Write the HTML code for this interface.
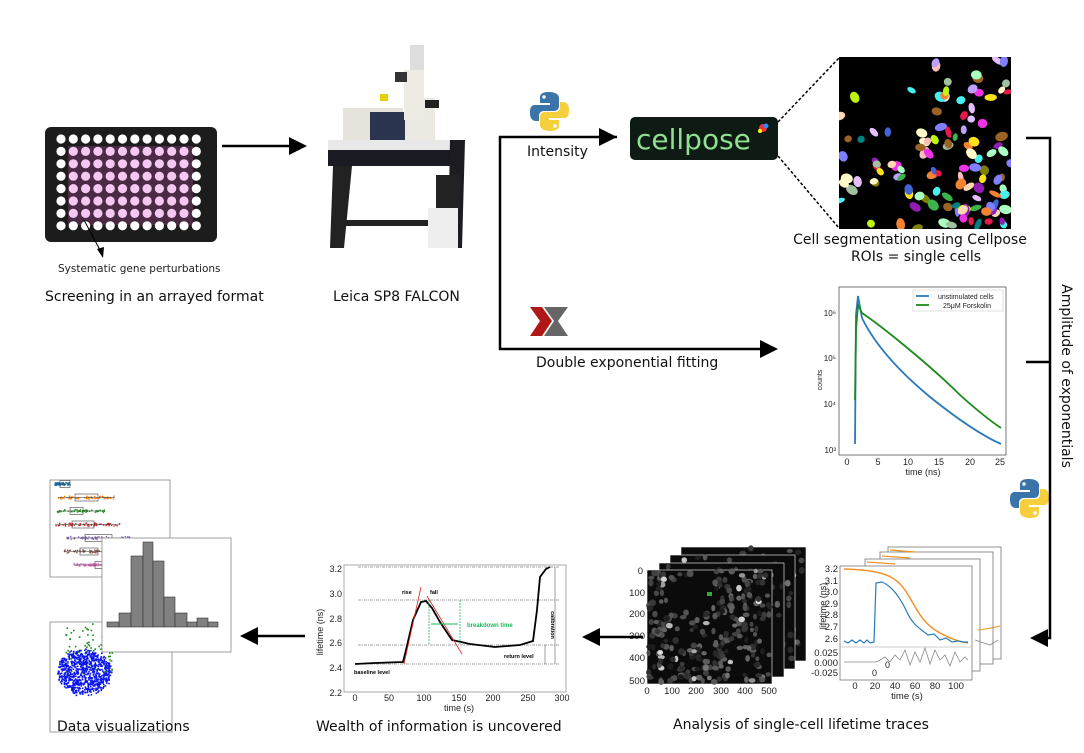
<!DOCTYPE html>
<html><head><meta charset="utf-8"><style>
html,body{margin:0;padding:0;background:#fff;}
svg{display:block;font-family:"Liberation Sans","DejaVu Sans",sans-serif;}
.cap{font-family:"DejaVu Sans","Liberation Sans",sans-serif;}
</style></head><body>
<svg id="s" width="1084" height="753" viewBox="0 0 1084 753" xmlns="http://www.w3.org/2000/svg">
<defs>
<clipPath id="segc"><rect x="839" y="57" width="172" height="172"/></clipPath>
</defs>

<!-- Plate -->
<rect x="45" y="127" width="172" height="115" rx="6" fill="#1c1c1c"/>
<rect x="68" y="146" width="125" height="79" fill="#4a2a45"/>
<g id="wells"></g>
<line x1="84" y1="220" x2="100" y2="250" stroke="#000" stroke-width="1"/>
<path d="M97,249 L103,258 L104,247z" fill="#000"/>
<text class="cap" x="58" y="272" font-size="10.5" fill="#222">Systematic gene perturbations</text>
<text class="cap" x="45" y="301" font-size="14" fill="#111">Screening in an arrayed format</text>

<line x1="222" y1="146" x2="290" y2="146" stroke="#000" stroke-width="2.5"/>
<path d="M289,137 L307,146 L289,155z" fill="#000"/>

<!-- Microscope approx -->
<g>
<rect x="328" y="140" width="136" height="10" fill="#e8e8e8"/>
<rect x="328" y="150" width="136" height="16" fill="#1a1a22"/>
<path d="M333,166 L352,166 L344,248 L330,248z" fill="#222"/>
<path d="M450,140 L465,140 L462,248 L448,248z" fill="#1c1c22"/>
<rect x="335" y="220" width="115" height="6" fill="#222"/>
<rect x="343" y="108" width="60" height="32" fill="#e6e3dd"/>
<rect x="370" y="112" width="40" height="28" fill="#2c3550"/>
<rect x="405" y="98" width="30" height="42" fill="#ece9e3"/>
<rect x="404" y="70" width="20" height="50" fill="#eeeae4"/>
<rect x="410" y="45" width="14" height="25" fill="#ddd"/>
<rect x="395" y="72" width="12" height="10" fill="#333"/>
<rect x="380" y="94" width="8" height="7" fill="#e5d000"/>
<rect x="425" y="100" width="14" height="8" fill="#222"/>
<rect x="436" y="175" width="24" height="35" fill="#222"/>
<rect x="428" y="208" width="30" height="40" fill="#eee"/>
</g>
<text class="cap" x="333" y="301" font-size="14" fill="#111">Leica SP8 FALCON</text>

<!-- Python logos -->
<g id="py1" transform="translate(530,92)">
<path d="M19,0 C10,0 10,4 10,6 L10,11 L20,11 L20,13 L5,13 C0,13 0,18 0,21 C0,26 2,29 6,29 L9,29 L9,24 C9,21 11,19 14,19 L24,19 C27,19 29,17 29,14 L29,6 C29,3 26,0 19,0z" fill="#3b74a8"/>
<path d="M20,39 C29,39 29,35 29,33 L29,28 L19,28 L19,26 L34,26 C39,26 39,21 39,18 C39,13 37,10 33,10 L30,10 L30,15 C30,18 28,20 25,20 L15,20 C12,20 10,22 10,25 L10,33 C10,36 13,39 20,39z" fill="#f5cf3e"/>
<circle cx="14" cy="5" r="1.7" fill="#fff"/><circle cx="25" cy="34" r="1.7" fill="#fff"/>
</g>
<use href="#py1" x="480" y="387"/>

<polyline points="617,137 500,137 500,349 760,349" fill="none" stroke="#000" stroke-width="2.5"/>
<path d="M599,128 L617,137 L599,146z" fill="#000"/>
<path d="M760,340 L778,349 L760,358z" fill="#000"/>
<text class="cap" x="527" y="156" font-size="14" fill="#111">Intensity</text>
<text class="cap" x="536" y="367" font-size="14" fill="#111">Double exponential fitting</text>
<path d="M530,307 L542,307 L552,321 L542,336 L530,336 L540,321z" fill="#b01818"/>
<path d="M544,307 L568,307 L558,321 L568,336 L544,336 L554,321z" fill="#666"/>

<!-- cellpose -->
<rect x="630" y="117" width="148" height="43" rx="5" fill="#0e1a14"/>
<text class="cap" x="636" y="149" font-size="28" fill="#8fe08f">cellpose</text>
<circle cx="763" cy="128" r="4" fill="#e33"/><circle cx="766" cy="126" r="2.5" fill="#38f"/><circle cx="760" cy="131" r="2" fill="#ff0"/>
<line x1="778" y1="122" x2="839" y2="58" stroke="#000" stroke-width="1.5" stroke-dasharray="3,2"/>
<line x1="778" y1="156" x2="839" y2="228" stroke="#000" stroke-width="1.5" stroke-dasharray="3,2"/>
<rect x="839" y="57" width="172" height="172" fill="#000"/>
<g id="seg" clip-path="url(#segc)"></g>
<text class="cap" x="910" y="244" font-size="14" fill="#111" text-anchor="middle">Cell segmentation using Cellpose</text>
<text class="cap" x="916" y="261" font-size="14" fill="#111" text-anchor="middle">ROIs = single cells</text>

<!-- decay plot -->
<rect x="839" y="287" width="167" height="168" fill="#fff" stroke="#555" stroke-width="0.8"/>
<g font-size="8" fill="#222" text-anchor="end">
<text x="836" y="316">10⁶</text><text x="836" y="361">10⁵</text><text x="836" y="407">10⁴</text><text x="836" y="453">10³</text>
</g>
<text transform="translate(822,380) rotate(-90)" font-size="7" fill="#222" text-anchor="middle">counts</text>
<g font-size="9" fill="#222" text-anchor="middle">
<text x="847" y="465">0</text><text x="878" y="465">5</text><text x="908" y="465">10</text><text x="939" y="465">15</text><text x="970" y="465">20</text><text x="1000" y="465">25</text>
</g>
<text x="923" y="475" font-size="9" fill="#222" text-anchor="middle">time (ns)</text>
<path d="M855,444 L856,315 L858,296 L862,318 C875,345 900,372 930,397 C960,421 985,437 1001,444" fill="none" stroke="#2a7ab8" stroke-width="1.8"/>
<path d="M855,400 L856,330 L858,305 L862,313 C880,325 930,365 960,395 C980,413 992,422 1001,428" fill="none" stroke="#1d8a1d" stroke-width="1.8"/>
<rect x="913" y="290" width="90" height="21" fill="#fff" stroke="#ccc" stroke-width="0.6"/>
<line x1="916" y1="296" x2="929" y2="296" stroke="#2a7ab8" stroke-width="1.8"/>
<line x1="916" y1="305" x2="929" y2="305" stroke="#1d8a1d" stroke-width="1.8"/>
<text x="938" y="299" font-size="7" fill="#222">unstimulated cells</text>
<text x="943" y="308" font-size="7" fill="#222">25μM Forskolin</text>

<!-- right bracket -->
<polyline points="1026,138 1050,138 1050,638 1048,638" fill="none" stroke="#000" stroke-width="2.5"/>
<line x1="1026" y1="362" x2="1050" y2="362" stroke="#000" stroke-width="2.5"/>
<path d="M1048,629 L1030,638 L1048,647z" fill="#000"/>
<text class="cap" transform="translate(1062,376) rotate(90)" font-size="14" fill="#111" text-anchor="middle">Amplitude of exponentials</text>

<!-- lifetime traces stack -->
<g id="traces">
<rect x="888" y="547" width="113" height="112" fill="#fff" stroke="#777" stroke-width="0.8"/>
<rect x="880" y="552" width="113" height="112" fill="#fff" stroke="#777" stroke-width="0.8"/>
<rect x="865" y="559" width="115" height="112" fill="#fff" stroke="#777" stroke-width="0.8"/>
<path d="M890,550 L915,552" stroke="#f0922a" stroke-width="1.2"/><path d="M882,556 L910,558" stroke="#f0922a" stroke-width="1.2"/><path d="M867,562 L895,564" stroke="#f0922a" stroke-width="1.2"/>
<path d="M978,630 L992,628 L1000,626" stroke="#f0922a" stroke-width="1"/>
<path d="M975,640 L990,645 L998,640" stroke="#888" stroke-width="0.8" fill="none"/>
<rect x="840" y="566" width="132" height="114" fill="#fff" stroke="#777" stroke-width="0.8"/>
<line x1="840" y1="647" x2="972" y2="647" stroke="#bbb" stroke-width="0.8"/>
<path d="M844,569 C880,570 895,575 905,590 C915,605 920,620 935,630 C948,638 960,642 968,643" fill="none" stroke="#f0922a" stroke-width="1.5"/>
<path d="M844,641 L848,643 L852,640 L856,643 L860,640 L864,643 L867,640 L870,643 L874,642 L876,583 L882,582 C892,586 900,598 906,610 C912,625 922,630 928,635 L934,634 L940,640 L946,638 L952,642 L958,641 L964,642 L968,642" fill="none" stroke="#2a7ab8" stroke-width="1.2"/>
<path d="M844,662 L876,662 L880,660 L885,657 L890,662 L895,655 L900,660 L905,650 L910,665 L915,652 L920,662 L925,648 L930,664 L935,650 L940,660 L945,655 L950,666 L955,652 L960,662 L965,657 L968,660" fill="none" stroke="#888" stroke-width="0.8"/>
<g font-size="9.5" fill="#222" text-anchor="end">
<text x="838" y="572">3.2</text><text x="838" y="584">3.1</text><text x="838" y="595">3.0</text><text x="838" y="607">2.9</text><text x="838" y="618">2.8</text><text x="838" y="630">2.7</text><text x="838" y="642">2.6</text>
<text x="838" y="656">0.025</text><text x="838" y="666">0.000</text><text x="838" y="676">-0.025</text>
</g>
<text x="872" y="676" font-size="9" fill="#222">0</text><text x="885" y="668" font-size="9" fill="#222">0</text>
<text transform="translate(826,606) rotate(-90)" font-size="9" fill="#222" text-anchor="middle">lifetime (ns)</text>
<g font-size="9.5" fill="#222" text-anchor="middle">
<text x="855" y="689">0</text><text x="875" y="689">20</text><text x="895" y="689">40</text><text x="915" y="689">60</text><text x="935" y="689">80</text><text x="956" y="689">100</text>
</g>
<text x="907" y="699" font-size="9.5" fill="#222" text-anchor="middle">time (s)</text>
</g>

<!-- microscopy stack -->
<g id="micro"></g>
<g font-size="9.5" fill="#222" text-anchor="end">
<text x="643" y="574">0</text><text x="645" y="596">100</text><text x="645" y="617">200</text><text x="645" y="639">300</text><text x="645" y="661">400</text><text x="645" y="684">500</text>
</g>
<g font-size="9.5" fill="#222" text-anchor="middle">
<text x="647" y="694">0</text><text x="672" y="694">100</text><text x="696" y="694">200</text><text x="721" y="694">300</text><text x="745" y="694">400</text><text x="769" y="694">500</text>
</g>
<text class="cap" x="673" y="729" font-size="14" fill="#111">Analysis of single-cell lifetime traces</text>

<line x1="643" y1="637" x2="598" y2="637" stroke="#000" stroke-width="2.5"/>
<path d="M600,628 L582,637 L600,646z" fill="#000"/>
<line x1="305" y1="636" x2="256" y2="636" stroke="#000" stroke-width="2.5"/>
<path d="M258,627 L240,636 L258,645z" fill="#000"/>

<!-- wealth plot -->
<rect x="344" y="565" width="222" height="127" fill="#fff" stroke="#aaa" stroke-width="1"/>
<g stroke="#444" stroke-width="0.6" stroke-dasharray="3,1,1,1">
<line x1="358" y1="567" x2="560" y2="567"/><line x1="358" y1="600" x2="560" y2="600"/><line x1="358" y1="645" x2="560" y2="645"/><line x1="358" y1="664" x2="560" y2="664"/>
</g>
<path d="M355,664 L375,663 L403,662 L406,650 L413,620 L421,602 L426,601 L432,608 L440,622 L452,640 L470,644 L495,647 L520,645 L533,641 L537,610 L540,577 L546,569 L550,567" fill="none" stroke="#000" stroke-width="1.8"/>
<line x1="404" y1="664" x2="421" y2="587" stroke="#d22" stroke-width="0.8"/>
<line x1="427" y1="596" x2="462" y2="654" stroke="#d22" stroke-width="0.8"/>
<g stroke="#1db85a" stroke-width="0.8" stroke-dasharray="2,1"><line x1="429" y1="600" x2="429" y2="645"/><line x1="460" y1="600" x2="460" y2="645"/></g>
<line x1="431" y1="624" x2="458" y2="624" stroke="#1db85a" stroke-width="1"/>
<text x="467" y="627" font-size="6" fill="#1db85a" font-weight="bold">breakdown time</text>
<text x="402" y="594" font-size="5.5" font-weight="bold">rise</text><text x="430" y="594" font-size="5.5" font-weight="bold">fall</text>
<text x="504" y="658" font-size="5.5" font-weight="bold">return level</text>
<text x="354" y="674" font-size="5.5" font-weight="bold">baseline level</text>
<text transform="translate(551,625) rotate(90)" font-size="5.5" font-weight="bold" text-anchor="middle">calibration</text>
<line x1="555" y1="567" x2="555" y2="664" stroke="#444" stroke-width="0.5"/>
<line x1="545" y1="645" x2="545" y2="664" stroke="#444" stroke-width="0.5"/>
<g font-size="9" fill="#222" text-anchor="end">
<text x="342" y="572">3.2</text><text x="342" y="597">3.0</text><text x="342" y="622">2.8</text><text x="342" y="646">2.6</text><text x="342" y="671">2.4</text><text x="342" y="696">2.2</text>
</g>
<text transform="translate(323,632) rotate(-90)" font-size="9" fill="#222" text-anchor="middle">lifetime (ns)</text>
<g font-size="9" fill="#222" text-anchor="middle">
<text x="355" y="701">0</text><text x="389" y="701">50</text><text x="424" y="701">100</text><text x="459" y="701">150</text><text x="493" y="701">200</text><text x="528" y="701">250</text><text x="562" y="701">300</text>
</g>
<text x="459" y="711" font-size="9" fill="#222" text-anchor="middle">time (s)</text>
<text class="cap" x="316" y="731" font-size="14" fill="#111">Wealth of information is uncovered</text>

<!-- data viz -->
<rect x="50" y="480" width="120" height="97" fill="#fff" stroke="#888" stroke-width="0.8"/>
<g id="box"></g>
<rect x="50" y="622" width="122" height="110" fill="#fff" stroke="#888" stroke-width="0.8"/>
<g id="scat"></g>
<rect x="102" y="538" width="129" height="114" fill="#fff" stroke="#888" stroke-width="0.8"/>
<g fill="#808080" stroke="#333" stroke-width="0.6">
<rect x="107" y="622" width="12" height="5"/><rect x="119" y="613" width="12" height="14"/><rect x="131" y="556" width="12" height="71"/><rect x="143" y="542" width="10" height="85"/><rect x="153" y="561" width="11" height="66"/><rect x="164" y="597" width="11" height="30"/><rect x="175" y="613" width="12" height="14"/><rect x="187" y="622" width="10" height="5"/><rect x="197" y="618" width="11" height="9"/><rect x="208" y="622" width="10" height="5"/>
</g>
<text class="cap" x="57" y="731" font-size="14" fill="#111">Data visualizations</text>
</svg>
<script>
(function(){
var NS="http://www.w3.org/2000/svg";
var seed=7;function r(){seed=(seed*16807)%2147483647;return seed/2147483647;}
function el(p,t,a){var e=document.createElementNS(NS,t);for(var k in a)e.setAttribute(k,a[k]);p.appendChild(e);return e;}
var w=document.getElementById("wells");
for(var i=0;i<12;i++)for(var j=0;j<8;j++){var pink=(i>0&&i<11&&j>0&&j<7);
el(w,"circle",{cx:61+i*12.3,cy:139+j*12.4,r:4.6,fill:pink?"#f5c8f2":"#fff"});}
var s=document.getElementById("seg");
var cols=["#e6194b","#3cb44b","#ffe119","#4363d8","#f58231","#911eb4","#46f0f0","#f032e6","#bcf60c","#fabebe","#008080","#e6beff","#9a6324","#fffac8","#aaffc3","#808000","#ffd8b1","#7f7fff","#a0c0a0","#c0a0ff"];
var placed=0;
for(var n=0;n<400&&placed<120;n++){var x=839+r()*172,y=57+r()*172;
if(y<130&&x<925&&r()<0.85)continue;if(y>200&&x<900&&r()<0.7)continue;if(y<90&&r()<0.4)continue;
placed++;
el(s,"ellipse",{cx:x,cy:y,rx:2.5+r()*2.5,ry:3.5+r()*3,fill:cols[Math.floor(r()*cols.length)],transform:"rotate("+(r()*180)+" "+x+" "+y+")"});}
var m=document.getElementById("micro");
var offs=[[34,-23],[23,-15],[12,-7],[0,0]];
for(var k=0;k<4;k++){var ox=647+offs[k][0],oy=570+offs[k][1];
el(m,"rect",{x:ox,y:oy,width:125,height:114,fill:"#0b0b0b",stroke:"#fff","stroke-width":0.6});
var cnt=k==3?300:80;
for(var q=0;q<cnt;q++){var x=ox+r()*122+1,y=oy+r()*111+1;
if(k==3&&((x-690)*(x-690)/500+(y-595)*(y-595)/300)<1)continue;
var g=Math.floor(25+r()*(r()<0.08?200:80));
el(m,"ellipse",{cx:x,cy:y,rx:2+r()*1.5,ry:2+r()*1.5,fill:"rgb("+g+","+g+","+g+")"});}}
el(m,"rect",{x:707,y:592,width:5,height:4,fill:"#3a3"});
var b=document.getElementById("box");
var bc=["#1f77b4","#ff7f0e","#2ca02c","#d62728","#9467bd","#8c564b","#e377c2"];
var bs=[[55,70,60,62],[58,115,75,90],[57,105,70,75],[55,120,72,86],[66,130,85,104],[64,120,80,90],[74,110,95,100]];
for(var k=0;k<7;k++){var y=484+k*13.5,d=bs[k];
for(var q=0;q<60;q++){var x=d[0]+r()*(d[1]-d[0]);el(b,"circle",{cx:x,cy:y+(r()-0.5)*3,r:0.8,fill:bc[k]});}
el(b,"line",{x1:d[0],y1:y,x2:d[1],y2:y,stroke:"#333","stroke-width":0.5});
el(b,"rect",{x:d[2],y:y-3.5,width:d[3]-d[2]+8,height:7,fill:"none",stroke:"#444","stroke-width":0.6});}
var sc=document.getElementById("scat");
for(var q=0;q<90;q++){var x=64+r()*48,y=620+r()*45+r()*20;el(sc,"rect",{x:x,y:y,width:1.6,height:1.6,fill:"#1a8a1a"});}
for(var q=0;q<800;q++){var a=r()*6.283,rr=Math.sqrt(r());var x=84+Math.cos(a)*rr*27,y=668+Math.sin(a)*rr*22+r()*6;if(y<650&&r()<0.6)continue;el(sc,"rect",{x:x,y:y,width:1.6,height:1.6,fill:"#0a14ee"});}
})();
</script>
</body></html>
